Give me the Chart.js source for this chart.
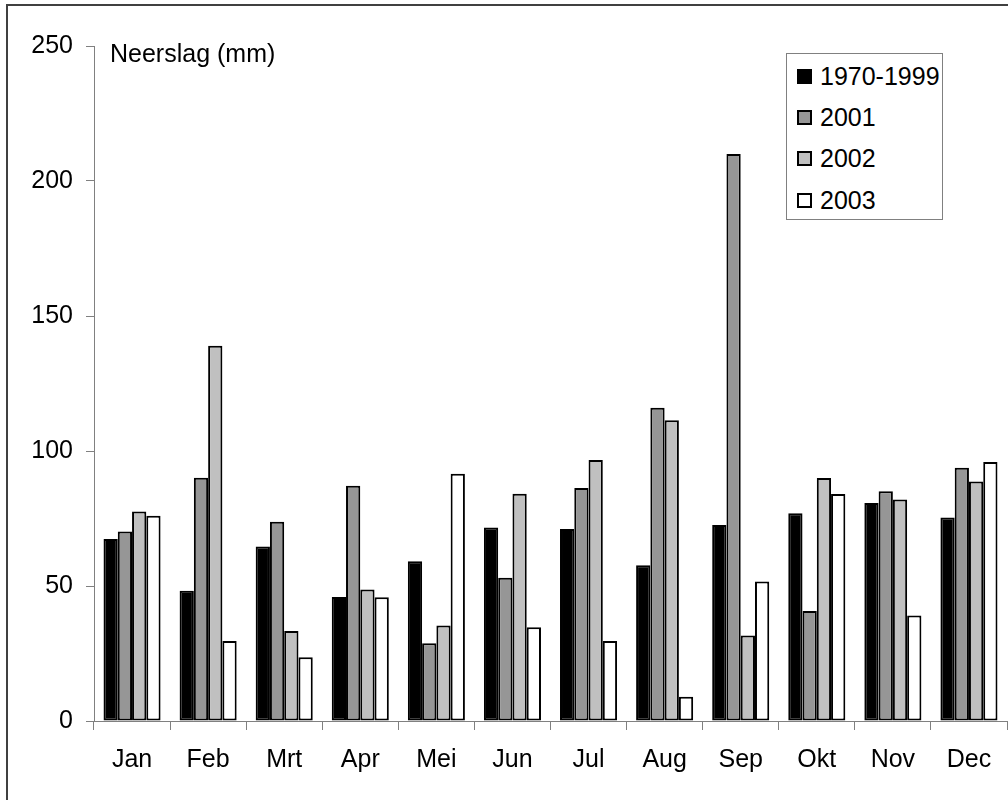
<!DOCTYPE html>
<html>
<head>
<meta charset="utf-8">
<script src="https://cdn.jsdelivr.net/npm/chart.js@4.4.1/dist/chart.umd.min.js"></script>
<style>
    html, body {
        margin: 0;
        padding: 0;
        width: 1008px;
        height: 800px;
        overflow: hidden;
        background: #fff;
        font-family: 'Liberation Sans', Arial, sans-serif;
    }
    #wrap {
        position: relative;
        width: 1008px;
        height: 800px;
    }
    #frame {
        position: absolute;
        left: 6px;
        top: 4px;
        width: 1100px;
        height: 900px;
        border: 2px solid #404040;
    }
    #rainChart {
        position: absolute;
        left: 0;
        top: 0;
    }
    #legend {
        position: absolute;
        left: 786px;
        top: 53px;
        width: 157px;
        height: 167px;
        border: 1px solid #808080;
        background: #fff;
        box-sizing: border-box;
    }
    #legend ul {
        list-style: none;
        margin: 0;
        padding: 0;
    }
    #legend li {
        position: absolute;
        left: 10px;
        height: 30px;
        display: flex;
        align-items: center;
        font-size: 25px;
        color: #000;
    }
    #legend .swatch {
        display: inline-block;
        width: 11px;
        height: 11px;
        border: 2px solid #000;
        margin-right: 8px;
    }
</style>
</head>
<body>
<div id="wrap">
    <div id="frame"></div>
    <canvas id="rainChart" width="1008" height="800"></canvas>
    <div id="legend"></div>
</div>
<script>
// Months (Dutch)
const months = ['Jan', 'Feb', 'Mrt', 'Apr', 'Mei', 'Jun', 'Jul', 'Aug', 'Sep', 'Okt', 'Nov', 'Dec'];

// Series labels
const seriesLabels = ['1970-1999', '2001', '2002', '2003'];

// Monthly precipitation (mm)
const normal7099 = [67.4, 48.2, 64.6, 45.9, 59.2, 71.7, 71.1, 57.7, 72.6, 76.9, 80.7, 75.4];
const rain2001 = [70.2, 90.1, 73.8, 87.1, 28.8, 53.1, 86.3, 116.0, 210.0, 40.7, 85.1, 93.8];
const rain2002 = [77.6, 139.0, 33.3, 48.7, 35.4, 84.2, 96.7, 111.4, 31.7, 90.0, 82.0, 88.7];
const rain2003 = [76.0, 29.6, 23.6, 45.8, 91.6, 34.7, 29.6, 9.0, 51.7, 84.1, 39.1, 95.9];

// Y axis
const yMin = 0;
const yMax = 250;
const yStep = 50;
const yTitle = 'Neerslag (mm)';

const fills = ['#000000', '#969696', '#c0c0c0', '#ffffff'];
const FONT = "'Liberation Sans', Arial, sans-serif";

// Draw the axis title inside the plot area
const axisTitlePlugin = {
    id: 'axisTitle',
    afterDraw(chart) {
        const ctx = chart.ctx;
        ctx.save();
        ctx.font = '25px ' + FONT;
        ctx.fillStyle = '#000';
        ctx.textAlign = 'left';
        ctx.textBaseline = 'middle';
        ctx.fillText(yTitle, chart.chartArea.left + 16, 55);
        ctx.restore();
    }
};

function buildDatasets() {
    const values = [normal7099, rain2001, rain2002, rain2003];
    return values.map((data, i) => ({
        label: seriesLabels[i],
        data: data,
        backgroundColor: fills[i],
        borderColor: '#000',
        borderWidth: 2,
        borderSkipped: false,
        categoryPercentage: 0.75,
        barPercentage: 1.0
    }));
}

const chart = new Chart(document.getElementById('rainChart').getContext('2d'), {
    type: 'bar',
    data: {
        labels: months,
        datasets: buildDatasets()
    },
    options: {
        responsive: false,
        animation: false,
        devicePixelRatio: 1,
        layout: {
            padding: { left: 0, right: 1, top: 46, bottom: 0 }
        },
        plugins: {
            legend: { display: false },
            tooltip: { enabled: false }
        },
        scales: {
            x: {
                grid: {
                    offset: true,
                    drawOnChartArea: false,
                    color: '#808080',
                    tickLength: 9
                },
                border: { color: '#808080', width: 1 },
                ticks: {
                    color: '#000',
                    font: { family: FONT, size: 25 },
                    padding: 15,
                    maxRotation: 0
                },
                afterFit(scale) {
                    scale.height = 79;
                }
            },
            y: {
                min: yMin,
                max: yMax,
                grid: {
                    drawOnChartArea: false,
                    color: '#808080',
                    tickLength: 8
                },
                border: { color: '#808080', width: 1 },
                ticks: {
                    stepSize: yStep,
                    color: '#000',
                    font: { family: FONT, size: 25 },
                    padding: 13
                },
                afterFit(scale) {
                    scale.width = 94;
                }
            }
        }
    },
    plugins: [axisTitlePlugin]
});

// HTML legend built from the datasets
function buildLegend(chart) {
    const box = document.getElementById('legend');
    const ul = document.createElement('ul');
    const rowCenters = [22, 63, 104, 146];
    chart.data.datasets.forEach((ds, i) => {
        const li = document.createElement('li');
        li.style.top = (rowCenters[i] - 15) + 'px';
        const sw = document.createElement('span');
        sw.className = 'swatch';
        sw.style.background = ds.backgroundColor;
        li.appendChild(sw);
        li.appendChild(document.createTextNode(ds.label));
        ul.appendChild(li);
    });
    box.appendChild(ul);
}

buildLegend(chart);
</script>
</body>
</html>
